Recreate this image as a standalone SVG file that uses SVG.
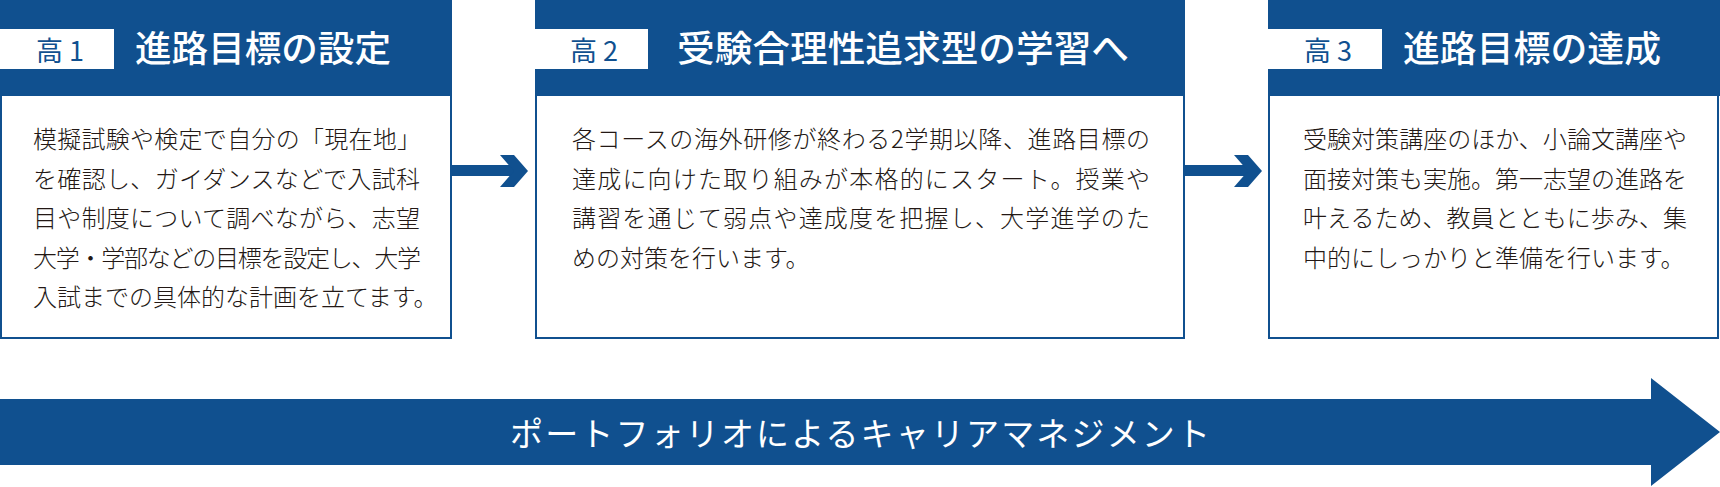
<svg xmlns="http://www.w3.org/2000/svg" width="1720" height="487" viewBox="0 0 1720 487">
<style>
.hdr{fill:#10508F}
.body{fill:#FFFFFF;stroke:#10508F;stroke-width:2}
.lbl{fill:#FFFFFF}
.lbltxt{font-family:"Noto Sans CJK JP","Noto Sans",sans-serif;font-size:27px;fill:#10508F}
.ttl{font-family:"Noto Sans CJK JP","Noto Sans",sans-serif;font-size:36.5px;font-weight:500;fill:#FFFFFF}
.txt{font-family:"Noto Sans CJK JP","Noto Sans",sans-serif;font-size:24px;font-weight:300;fill:#231815}
.conn{fill:#10508F}
.band{fill:#10508F}
.bandtxt{font-family:"Noto Sans CJK JP","Noto Sans",sans-serif;font-size:33px;fill:#FFFFFF}
</style>
<rect width="1720" height="487" fill="#FFFFFF"/>

<g id="step1">
  <rect class="hdr" x="0" y="0" width="452" height="96"/>
  <rect class="body" x="1" y="95" width="450" height="243"/>
  <rect class="lbl" x="0" y="29" width="114" height="40"/>
  <text class="lbltxt" x="36" y="60.5">高 1</text>
  <text class="ttl" x="135" y="61.5" textLength="256" lengthAdjust="spacingAndGlyphs">進路目標の設定</text>
  <text class="txt" x="33" y="148" textLength="388">模擬試験や検定で自分の「現在地」</text>
  <text class="txt" x="33" y="187.5" textLength="387">を確認し、ガイダンスなどで入試科</text>
  <text class="txt" x="33" y="227" textLength="387">目や制度について調べながら、志望</text>
  <text class="txt" x="33" y="266.5" textLength="388">大学・学部などの目標を設定し、大学</text>
  <text class="txt" x="33" y="306">入試までの具体的な計画を立てます。</text>
</g>

<g id="step2">
  <rect class="hdr" x="535" y="0" width="650" height="96"/>
  <rect class="body" x="536" y="95" width="648" height="243"/>
  <rect class="lbl" x="535" y="29" width="113" height="40"/>
  <text class="lbltxt" x="570" y="60.5">高 2</text>
  <text class="ttl" x="677" y="61.5" textLength="452" lengthAdjust="spacingAndGlyphs">受験合理性追求型の学習へ</text>
  <text class="txt" x="572" y="148" textLength="578">各コースの海外研修が終わる2学期以降、進路目標の</text>
  <text class="txt" x="572" y="187.5" textLength="578">達成に向けた取り組みが本格的にスタート。授業や</text>
  <text class="txt" x="572" y="227" textLength="578">講習を通じて弱点や達成度を把握し、大学進学のた</text>
  <text class="txt" x="572" y="266.5">めの対策を行います。</text>
</g>

<g id="step3">
  <rect class="hdr" x="1268" y="0" width="452" height="96"/>
  <rect class="body" x="1269" y="95" width="449" height="243"/>
  <rect class="lbl" x="1268" y="29" width="114" height="40"/>
  <text class="lbltxt" x="1304" y="60.5">高 3</text>
  <text class="ttl" x="1403" y="61.5" textLength="258" lengthAdjust="spacingAndGlyphs">進路目標の達成</text>
  <text class="txt" x="1303" y="148" textLength="384">受験対策講座のほか、小論文講座や</text>
  <text class="txt" x="1303" y="187.5" textLength="384">面接対策も実施。第一志望の進路を</text>
  <text class="txt" x="1303" y="227" textLength="384">叶えるため、教員とともに歩み、集</text>
  <text class="txt" x="1303" y="266.5">中的にしっかりと準備を行います。</text>
</g>

<g id="portfolio">
  <polygon class="band" points="0,399 1651,399 1651,378 1720,432 1651,486 1651,465 0,465"/>
  <text class="bandtxt" x="510" y="446" textLength="700">ポートフォリオによるキャリアマネジメント</text>
</g>

<g id="connectors">
  <rect class="conn" x="452" y="165" width="63" height="11"/>
  <polygon class="conn" points="500,155 514,155 528,171 514,187 500,187 514,171"/>
  <rect class="conn" x="1185" y="165" width="64" height="11"/>
  <polygon class="conn" points="1234,155 1248,155 1262,171 1248,187 1234,187 1248,171"/>
</g>
</svg>
